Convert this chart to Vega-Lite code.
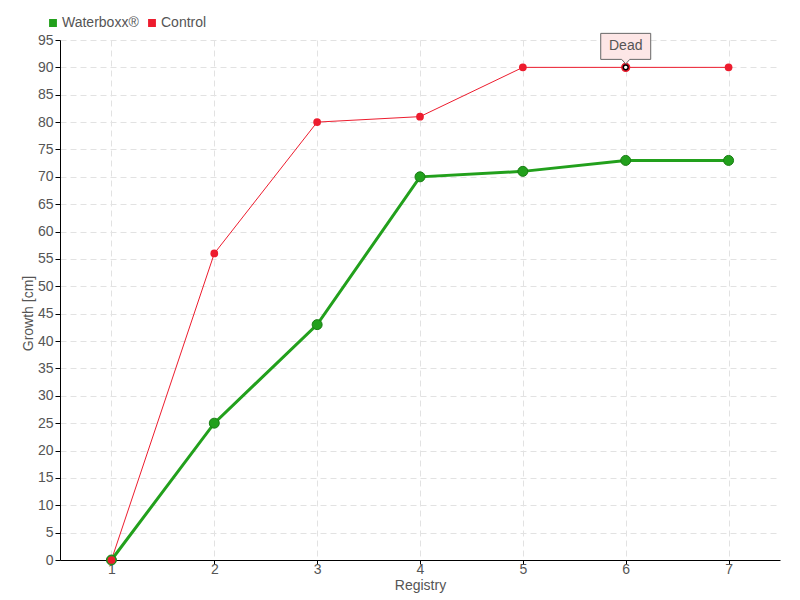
{
  "$schema": "https://vega.github.io/schema/vega-lite/v6.json",
  "width": 720,
  "height": 520,
  "autosize": {"type": "none"},
  "padding": {"left": 60, "top": 40, "right": 20, "bottom": 40},
  "background": "white",
  "config": {
    "view": {"stroke": null},
    "font": "Liberation Sans",
    "axis": {
      "labelFont": "Liberation Sans",
      "titleFont": "Liberation Sans",
      "labelColor": "#555555",
      "titleColor": "#555555",
      "labelFontSize": 14,
      "titleFontSize": 14,
      "titleFontWeight": "normal",
      "domainColor": "#000000",
      "tickColor": "#000000",
      "gridColor": "#e2e2e2",
      "gridDash": [6, 4],
      "gridWidth": 1
    }
  },
  "data": {
    "values": [
      {"registry": 1, "growth": 0, "series": "Waterboxx®"},
      {"registry": 2, "growth": 25, "series": "Waterboxx®"},
      {"registry": 3, "growth": 43, "series": "Waterboxx®"},
      {"registry": 4, "growth": 70, "series": "Waterboxx®"},
      {"registry": 5, "growth": 71, "series": "Waterboxx®"},
      {"registry": 6, "growth": 73, "series": "Waterboxx®"},
      {"registry": 7, "growth": 73, "series": "Waterboxx®"},
      {"registry": 1, "growth": 0, "series": "Control"},
      {"registry": 2, "growth": 56, "series": "Control"},
      {"registry": 3, "growth": 80, "series": "Control"},
      {"registry": 4, "growth": 81, "series": "Control"},
      {"registry": 5, "growth": 90, "series": "Control"},
      {"registry": 6, "growth": 90, "series": "Control"},
      {"registry": 7, "growth": 90, "series": "Control"}
    ]
  },
  "encoding": {
    "x": {
      "field": "registry", "type": "quantitative",
      "scale": {"domain": [0.5, 7.5], "nice": false, "zero": false},
      "axis": {"values": [1, 2, 3, 4, 5, 6, 7], "title": "Registry", "titlePadding": 2, "tickSize": 4, "labelPadding": -2, "format": "d"}
    },
    "y": {
      "field": "growth", "type": "quantitative",
      "scale": {"domain": [0, 95], "nice": false},
      "axis": {"values": [0,5,10,15,20,25,30,35,40,45,50,55,60,65,70,75,80,85,90,95], "title": "Growth [cm]", "titlePadding": 2, "titleY": 273, "tickSize": 5, "labelPadding": 2}
    },
    "color": {
      "field": "series", "type": "nominal",
      "scale": {"domain": ["Waterboxx®", "Control"], "range": ["#22a01c", "#ed1c2e"]},
      "legend": {
        "orient": "none", "legendX": -14, "legendY": -24, "direction": "horizontal",
        "title": null, "symbolType": "square", "symbolSize": 40,
        "labelFontSize": 14, "labelColor": "#555555", "labelFont": "Liberation Sans",
        "columnPadding": 6, "symbolOffset": 0, "labelOffset": 2
      }
    }
  },
  "layer": [
    {
      "transform": [{"filter": "datum.series === 'Control'"}],
      "mark": {"type": "line", "strokeWidth": 1}
    },
    {
      "transform": [{"filter": "datum.series === 'Waterboxx®'"}],
      "mark": {"type": "line", "strokeWidth": 3}
    },
    {
      "transform": [{"filter": "datum.series === 'Waterboxx®'"}],
      "mark": {"type": "point", "filled": true, "size": 100, "opacity": 1, "stroke": "#1a7d15", "strokeWidth": 1}
    },
    {
      "transform": [{"filter": "datum.series === 'Control'"}],
      "mark": {"type": "point", "filled": true, "size": 60, "opacity": 1}
    },
    {
      "transform": [{"filter": "datum.series === 'Control' && datum.registry === 6"}],
      "mark": {"type": "point", "filled": true, "size": 60, "opacity": 1, "stroke": "#ed1c2e", "strokeWidth": 1.5},
      "encoding": {"color": {"value": "#000000"}}
    },
    {
      "transform": [{"filter": "datum.series === 'Control' && datum.registry === 6"}],
      "mark": {"type": "point", "filled": true, "size": 12, "opacity": 1},
      "encoding": {"color": {"value": "#ffffff"}}
    },
    {
      "transform": [{"filter": "datum.series === 'Control' && datum.registry === 6"}],
      "mark": {
        "type": "point", "filled": true, "opacity": 1, "size": 4624,
        "shape": "M -0.735 -1 L 0.735 -1 L 0.735 -0.235 L 0.118 -0.235 L 0 -0.1 L -0.118 -0.235 L -0.735 -0.235 Z",
        "stroke": "#666666", "strokeWidth": 1
      },
      "encoding": {"color": {"value": "#fde6e6"}}
    },
    {
      "transform": [{"filter": "datum.series === 'Control' && datum.registry === 6"}],
      "mark": {"type": "text", "dy": -21, "fontSize": 14, "font": "Liberation Sans"},
      "encoding": {"text": {"value": "Dead"}, "color": {"value": "#555555"}}
    }
  ]
}
